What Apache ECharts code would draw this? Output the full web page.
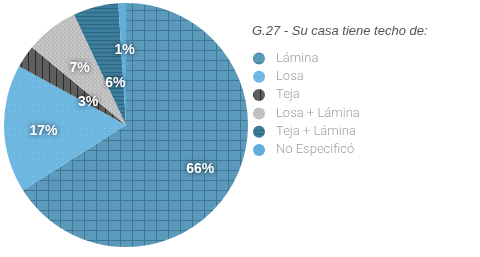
<!DOCTYPE html>
<html>
<head>
<meta charset="utf-8">
<script src="https://cdn.jsdelivr.net/npm/echarts@6/dist/echarts.min.js"></script>
<style>
html,body{margin:0;padding:0;background:#fff;}
#chart{width:480px;height:257px;}
</style>
</head>
<body>
<div id="chart"></div>
<script>
// ---- data ----
const categories = ['Lámina', 'Losa', 'Teja', 'Losa + Lámina', 'Teja + Lámina', 'No Especificó'];
const values = [66, 17, 3, 7, 6, 1];
// relative radial distance of each percentage label (fraction of pie radius)
const labelDistance = [0.66, 0.66, 0.36, 0.61, 0.36, 0.62];
const titleText = 'G.27 - Su casa tiene techo de:';

// ---- patterns ----
function pattern(w, h, bg, draw) {
  const c = document.createElement('canvas');
  c.width = w; c.height = h;
  const ctx = c.getContext('2d');
  ctx.fillStyle = bg; ctx.fillRect(0, 0, w, h);
  draw(ctx);
  return { image: c, repeat: 'repeat' };
}
const fills = [
  pattern(12, 10, '#5b9aba', ctx => { ctx.fillStyle = '#3f7896'; ctx.fillRect(0, 0, 1, 10); ctx.fillRect(0, 0, 12, 1); }),
  pattern(6, 6, '#6db7e0', ctx => { ctx.fillStyle = '#8cc7e8'; ctx.fillRect(2, 2, 1, 1); }),
  pattern(7, 4, '#5e5e5e', ctx => { ctx.fillStyle = '#2a2a2a'; ctx.fillRect(0, 0, 1, 4); }),
  pattern(4, 4, '#c2c2c2', ctx => { ctx.fillStyle = '#a9a9a9'; ctx.fillRect(0, 0, 1, 1); ctx.fillRect(2, 2, 1, 1); ctx.fillStyle = '#d6d6d6'; ctx.fillRect(2, 0, 1, 1); }),
  pattern(8, 4, '#3d7d9c', ctx => { ctx.fillStyle = '#2d6482'; ctx.fillRect(0, 0, 8, 1); }),
  pattern(2, 2, '#62aedb', ctx => {})
];

const center = [126, 125];
const pieRadius = 122;
const labelStyle = {
  position: 'inside', formatter: '{c}%', offset: [1, 4],
  color: '#fff', fontSize: 14, fontWeight: 'bold', fontFamily: 'Liberation Sans, Arial, sans-serif',
  textShadowColor: 'rgba(0,0,0,0.75)', textShadowBlur: 5
};

// one transparent overlay per category, sized so its 'inside' label lands at the wanted distance
const overlays = categories.map((_, k) => ({
  type: 'pie', center: center, radius: [0, pieRadius * labelDistance[k] * 2], startAngle: 90, clockwise: true,
  silent: true, animation: false, legendHoverLink: false,
  itemStyle: { color: 'rgba(0,0,0,0)' },
  labelLine: { show: false },
  data: categories.map((n, i) => ({
    name: n, value: values[i],
    label: Object.assign({}, labelStyle, { show: i === k })
  }))
}));

const chart = echarts.init(document.getElementById('chart'), null, { renderer: 'canvas' });
chart.setOption({
  animation: false,
  backgroundColor: '#fff',
  title: {
    text: titleText, left: 252, top: 25, padding: 0,
    textStyle: { fontStyle: 'italic', fontWeight: 'normal', fontSize: 13, color: '#555', fontFamily: 'Liberation Sans, Arial, sans-serif' }
  },
  legend: {
    orient: 'vertical', left: 253, top: 52, padding: 0,
    icon: 'circle', itemWidth: 12, itemHeight: 12, itemGap: 5.3,
    data: categories,
    textStyle: { color: '#a0a0a0', fontSize: 13, fontFamily: 'Roboto, sans-serif', fontWeight: 300, padding: [0, 0, 0, 6] }
  },
  series: [
    {
      type: 'pie', center: center, radius: [0, pieRadius], startAngle: 90, clockwise: true,
      label: { show: false }, labelLine: { show: false },
      data: categories.map((n, i) => ({ name: n, value: values[i], itemStyle: { color: fills[i] } }))
    }
  ].concat(overlays)
});
</script>
</body>
</html>
